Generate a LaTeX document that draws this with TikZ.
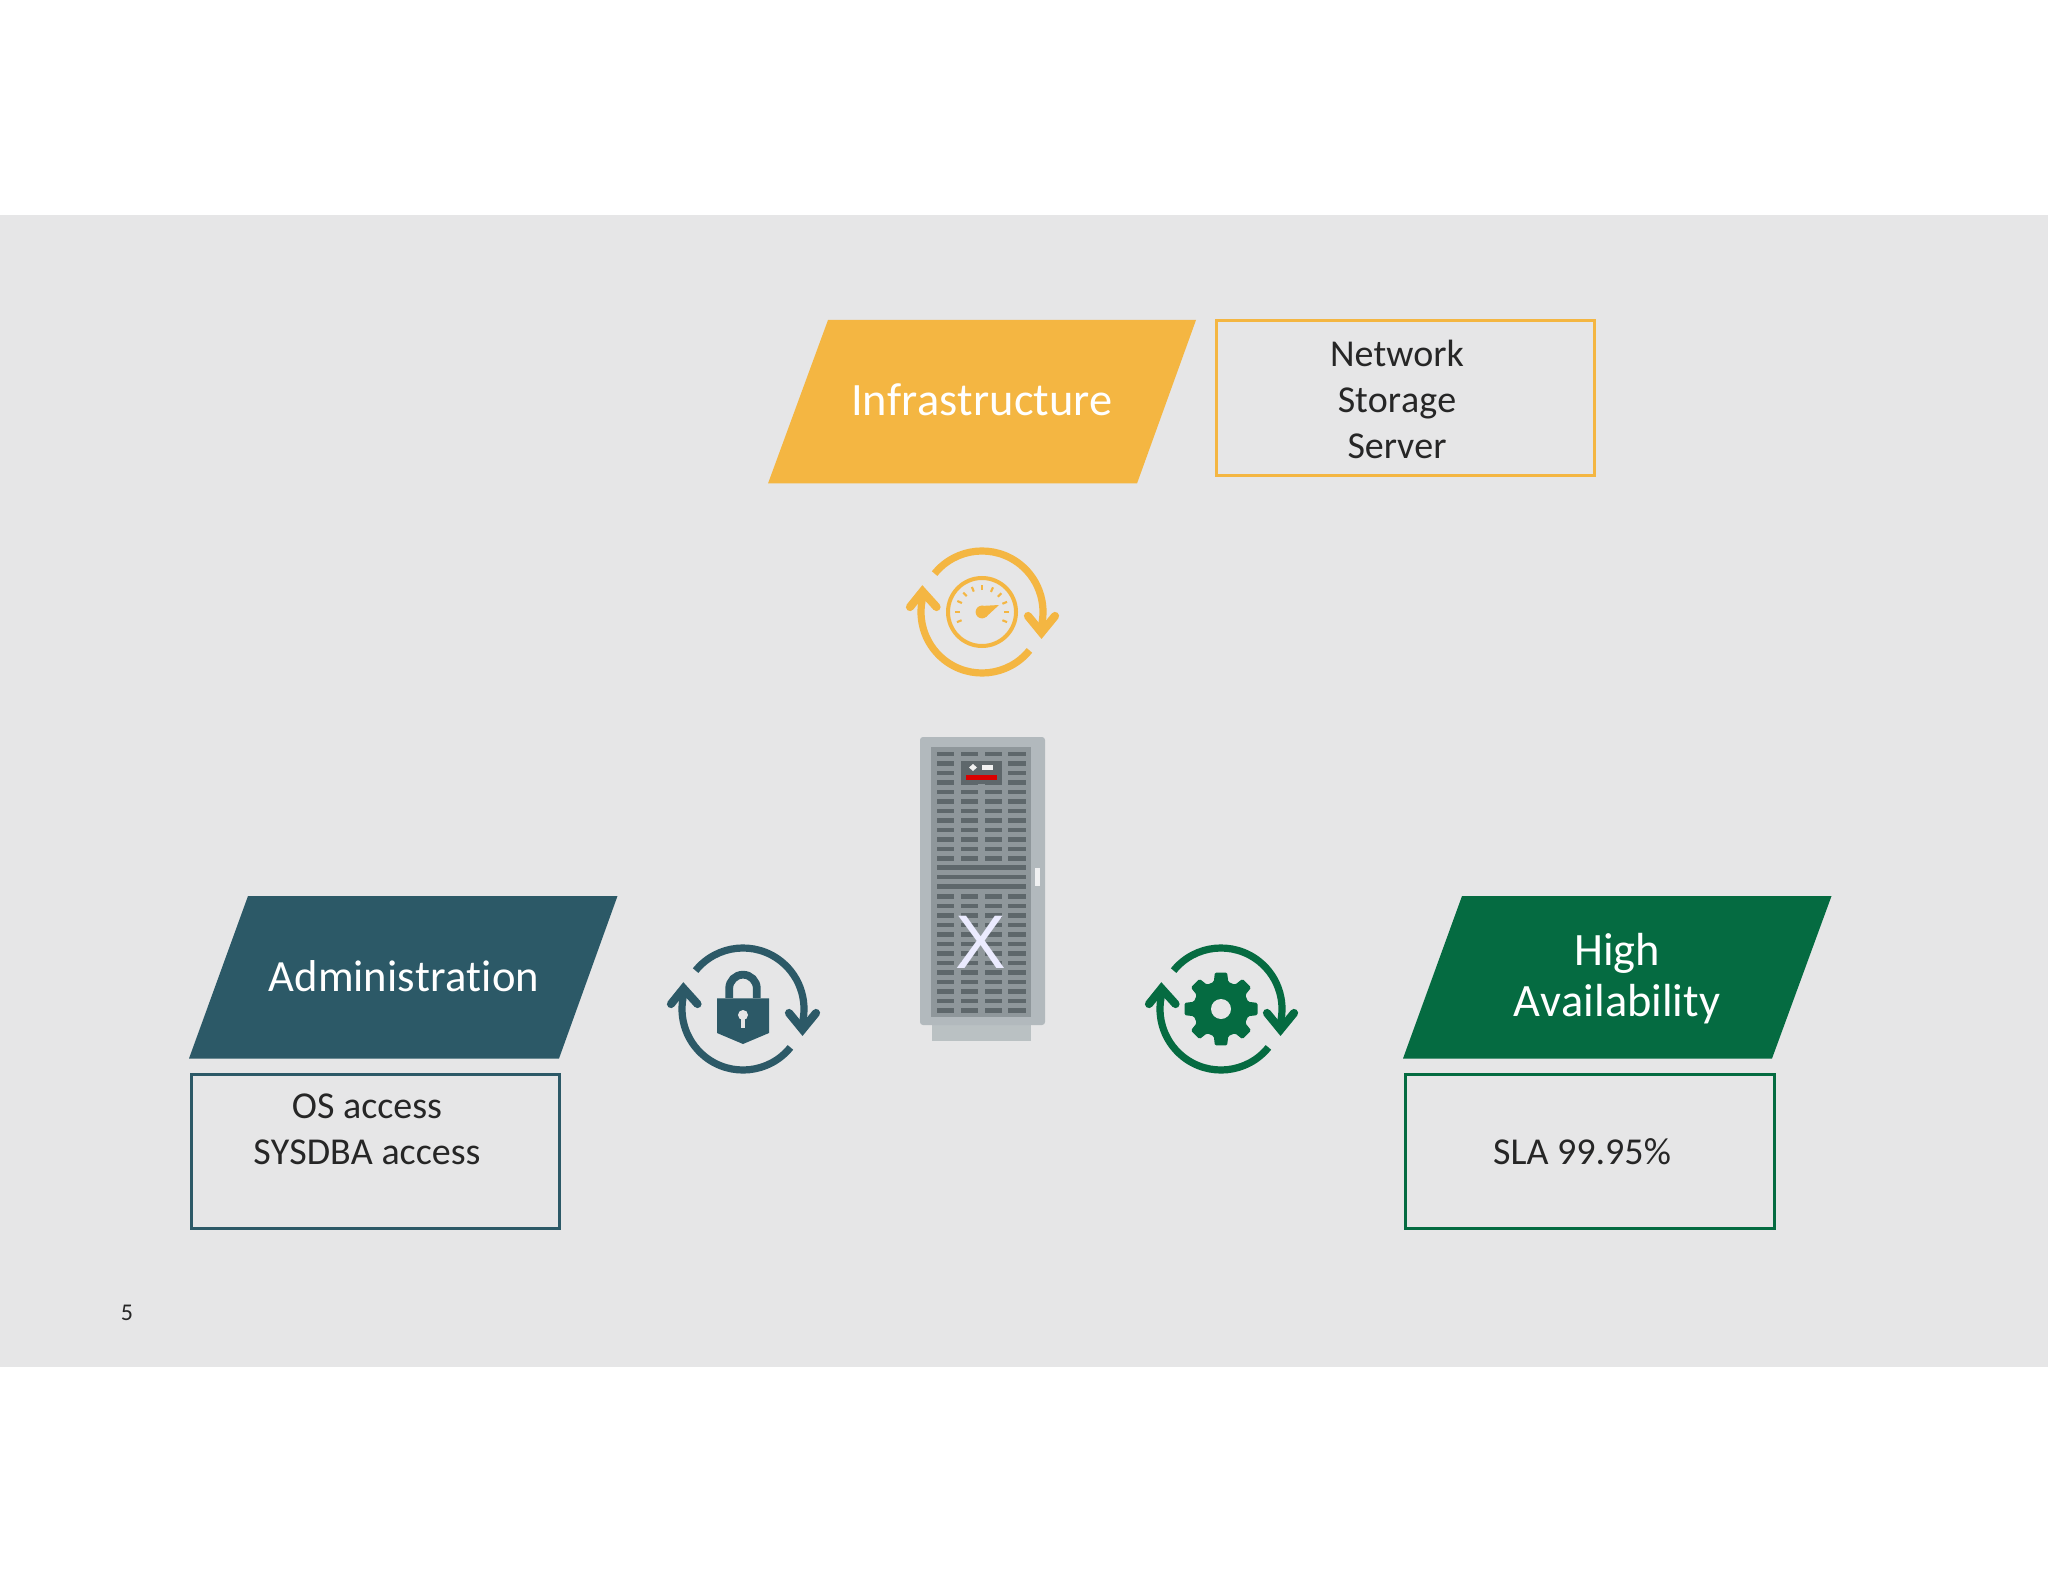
\documentclass[tikz,border=0pt]{standalone}
\usepackage{fontspec}
\setmainfont[Ligatures=NoCommon,Kerning=Off]{Carlito}
\newfontfamily\xfont{Liberation Sans}
\definecolor{bandgray}{HTML}{E6E6E7}
\definecolor{infraorange}{HTML}{F4B642}
\definecolor{adminteal}{HTML}{2C5967}
\definecolor{hagreen}{HTML}{056B41}
\definecolor{inktext}{HTML}{262626}
\definecolor{rackouter}{HTML}{B2B9BD}
\definecolor{rackinner}{HTML}{8F979B}
\definecolor{rackslot}{HTML}{5E676B}
\definecolor{rackbase}{HTML}{BAC1C3}
\newcommand{\cycleicon}[3]{%
  \begin{scope}[shift={(#1,#2)},x=.5pt,y=.5pt,draw=#3,line width=3.6pt]
    \draw[line cap=butt] (141:61) arc[start angle=141,end angle=-19,radius=30.5pt];
    \draw[line cap=butt] (-39:61) arc[start angle=-39,end angle=-200,radius=30.5pt];
    \draw[line cap=round,line join=miter,line width=4.1pt] (46,-4) -- (59.5,-20.5) -- (73,-4);
    \draw[line cap=round,line join=miter,line width=4.1pt] (-45.5,5) -- (-59.5,20.5) -- (-72,5);
  \end{scope}}
\tikzset{
  headtext/.style={text=white,font=\fontsize{23.2}{25}\selectfont,align=center},
  bodytext/.style={text=inktext,font=\fontsize{19}{23}\selectfont,align=center},
  panelbox/.style={line width=1.5pt,fill=none},
  slotbar/.style={fill=rackslot,draw=none}
}
\begin{document}
\begin{tikzpicture}[x=.5pt,y=-.5pt]
\useasboundingbox (0,0) rectangle (2048,1582);
\fill[white] (0,0) rectangle (2048,1582);
\fill[bandgray] (0,215) rectangle (2048,1367);
% parallelograms
\fill[infraorange] (828,320) -- (1196,320) -- (1137,483.5) -- (768,483.5) -- cycle;
\fill[adminteal] (248,896) -- (617.5,896) -- (559,1058.5) -- (189,1058.5) -- cycle;
\fill[hagreen] (1462,896) -- (1831.5,896) -- (1772,1058.5) -- (1403,1058.5) -- cycle;
% boxes
\draw[panelbox,draw=infraorange] (1216,321) rectangle (1594,476);
\draw[panelbox,draw=adminteal] (191,1074) rectangle (559,1228.5);
\draw[panelbox,draw=hagreen] (1405,1074) rectangle (1774,1228.5);
% texts
\node[headtext] (infra) at (982,400) {Infrastructure};
\node[headtext,font=\fontsize{22.3}{25}\selectfont] (admin) at (404,976) {Administration};
\node[headtext,font=\fontsize{23.2}{25.5}\selectfont] (ha) at (1617,979) {High\\Availability};
\node[bodytext] (infralist) at (1397,399) {Network\\Storage\\Server};
\node[bodytext] (adminlist) at (367,1129.5) {OS access\\SYSDBA access};
\node[bodytext] (halist) at (1582,1152) {SLA 99.95\%};
\node[text=inktext,font=\fontsize{12}{14}\selectfont] (pagenum) at (127,1312.5) {5};
% cycle icons
\cycleicon{982}{612}{infraorange}
\cycleicon{743}{1009}{adminteal}
\cycleicon{1221}{1009}{hagreen}
% gauge
\begin{scope}[shift={(982,612)},x=.5pt,y=.5pt]
  \draw[infraorange,line width=2pt] (0,0) circle[radius=17pt];
  \foreach \a in {-22,0,22,44,66,90,112,134,156,180,202}
    \draw[infraorange,line width=1.05pt] (\a:22) -- (\a:27);
  \fill[infraorange] (0,0) circle[radius=3.2pt];
  \fill[infraorange] (-1,6) -- (17,7) -- (4,-5) -- cycle;
\end{scope}
% lock
\begin{scope}[shift={(743,1009)},x=.5pt,y=.5pt]
  \draw[adminteal,line width=3.9pt] (-13.8,11) -- (-13.8,20.5) arc[start angle=180,end angle=0,radius=6.9pt] -- (13.8,11);
  \fill[adminteal] (-26,10.7) -- (26,10.7) -- (26,-24) -- (0,-35) -- (-26,-24) -- cycle;
  \fill[bandgray] (0,-6) circle[radius=2.5pt];
  \fill[bandgray] (-2.3,-6) -- (2.3,-6) -- (2.3,-19) -- (-2.3,-19) -- cycle;
\end{scope}
% gear
\begin{scope}[shift={(1221,1009)},x=.5pt,y=.5pt]
  \fill[hagreen,rounded corners=.7pt] (-9.5:37)
    \foreach \a in {0,45,...,315} { -- (\a-9.5:37) -- (\a+9.5:37) -- (\a+15:28) -- (\a+30:28) } -- cycle;
  \fill[bandgray] (0,0) circle[radius=5pt];
\end{scope}
% rack
\fill[rackbase] (932,1025) rectangle (1031,1041);
\fill[rackouter,rounded corners=1.5pt] (920,737) rectangle (1045,1025);
\fill[rackinner] (931,747) rectangle (1031,1017);
\foreach \r in {0,...,11,15,16,...,27} {
  \pgfmathsetmacro{\yy}{751.5+\r*9.5}
  \foreach \xl/\xr in {936.5/954,960.5/978,984.5/1001.5,1008/1026}
    \fill[slotbar] (\xl,\yy) rectangle (\xr,\yy+4.5);
}
\foreach \yy in {865,874.5,884}
  \fill[slotbar] (936.5,\yy) rectangle (1026,\yy+4.5);
\fill[rackslot] (961,761) rectangle (1002,784);
\fill[red!85!black] (966,775) rectangle (997,780);
\fill[white!90!gray] (973,764) -- (977,767.5) -- (973,771) -- (969,767.5) -- cycle;
\fill[white!90!gray] (982,765) rectangle (993,770);
\fill[white!80!rackouter] (1035,868) rectangle (1040,886);
\node[text=white!92!blue,font=\xfont\fontsize{38}{38}\selectfont,inner sep=0pt] (rackx) at (981,942) {X};
\end{tikzpicture}
\end{document}
